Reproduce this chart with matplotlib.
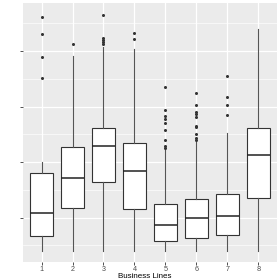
import matplotlib
matplotlib.use("Agg")
import matplotlib.pyplot as plt
from matplotlib.ticker import MultipleLocator

plt.rcParams["font.family"] = ["Liberation Sans", "DejaVu Sans"]

# Business lines 1..8 (y axis unlabelled)
lines = [1, 2, 3, 4, 5, 6, 7, 8]
whislo = [0.40, 0.40, 0.40, 0.40, 0.40, 0.40, 0.40, 0.40]
q1 = [0.66, 1.18, 1.65, 1.15, 0.58, 0.64, 0.68, 1.36]
med = [1.08, 1.71, 2.29, 1.84, 0.86, 1.00, 1.03, 2.13]
q3 = [1.80, 2.28, 2.62, 2.34, 1.24, 1.34, 1.42, 2.61]
whishi = [2.00, 3.92, 4.07, 4.04, 2.22, 2.37, 2.52, 4.39]
outliers = [
    [4.61, 4.30, 3.89, 3.51],
    [4.13],
    [4.65, 4.24, 4.20, 4.17, 4.12],
    [4.33, 4.21],
    [3.35, 2.94, 2.83, 2.78, 2.71, 2.58, 2.40, 2.29, 2.25],
    [3.25, 3.03, 2.91, 2.87, 2.81, 2.65, 2.63, 2.50, 2.43, 2.40],
    [3.55, 3.18, 3.03, 2.85],
    [],
]

stats = []
for i in range(len(lines)):
    stats.append({"whislo": whislo[i], "q1": q1[i], "med": med[i], "q3": q3[i],
                  "whishi": whishi[i], "fliers": outliers[i]})

fig = plt.figure(figsize=(2.8, 2.8), dpi=100)
ax = fig.add_axes([0.082, 0.065, 0.907, 0.923])
ax.set_facecolor("#EBEBEB")

ax.bxp(stats, positions=lines, widths=0.75, patch_artist=True, showcaps=False,
       boxprops=dict(facecolor="white", edgecolor="#333333", linewidth=0.8),
       medianprops=dict(color="#222222", linewidth=1.1),
       whiskerprops=dict(color="#555555", linewidth=0.8),
       flierprops=dict(marker="o", markersize=2.2, markerfacecolor="#333333",
                       markeredgecolor="#333333", markeredgewidth=0),
       zorder=3)

ax.set_xlim(0.4, 8.6)
ax.set_ylim(0.204, 4.86)
ax.set_xticks(lines)
ax.set_xticklabels([str(b) for b in lines])
ax.yaxis.set_major_locator(MultipleLocator(1))
ax.yaxis.set_minor_locator(MultipleLocator(0.5))
ax.set_yticklabels([])

ax.grid(True, which="major", color="white", linewidth=0.9, zorder=0)
ax.grid(True, which="minor", axis="y", color="white", linewidth=0.45, zorder=0)
ax.set_axisbelow(True)
for s in ax.spines.values():
    s.set_visible(False)

ax.tick_params(axis="both", which="major", length=2, width=0.6, color="#333333",
               labelsize=5.2, labelcolor="#4D4D4D", pad=0.8)
ax.tick_params(axis="y", which="minor", length=0)
ax.set_xlabel("Business Lines", fontsize=5.8, labelpad=0.5, color="black")
ax.xaxis.label.set_x(0.48)

fig.savefig("out.png", dpi=100)
